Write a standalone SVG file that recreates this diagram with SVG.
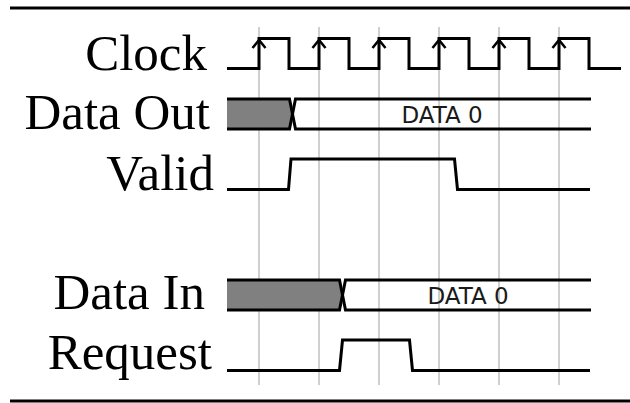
<svg xmlns="http://www.w3.org/2000/svg" width="630" height="403" viewBox="0 0 630 403">
  <style>
    .rule { stroke: #000; stroke-width: 3; }
    .grid { stroke: #a0a0a0; stroke-width: 1; }
    .sig { fill: none; stroke: #000; stroke-width: 3; stroke-linejoin: miter; }
    .clk { fill: none; stroke: #000; stroke-width: 3; }
    .edge { fill: none; stroke: #000; stroke-width: 2.5; }
    .label { font-family: "Liberation Serif", "Times New Roman", serif; font-size: 51px; fill: #000; text-anchor: end; }
    .bus { font-family: "DejaVu Sans", sans-serif; font-size: 23px; fill: #1a1a1a; text-anchor: middle; }
    .undef { fill: #808080; stroke: none; }
  </style>
  <defs>
    <path id="clk-arrow" class="edge" d="M-6.5,48 L0,40 L6.5,48"/>
  </defs>

  <rect width="630" height="403" fill="#fff"/>

  <!-- top and bottom rules -->
  <line class="rule" x1="10" y1="8" x2="630" y2="8"/>
  <line class="rule" x1="10" y1="401" x2="630" y2="401"/>

  <!-- clock grid -->
  <g id="grid">
    <line class="grid" x1="259" y1="27" x2="259" y2="385"/>
    <line class="grid" x1="319" y1="27" x2="319" y2="385"/>
    <line class="grid" x1="379" y1="27" x2="379" y2="385"/>
    <line class="grid" x1="439" y1="27" x2="439" y2="385"/>
    <line class="grid" x1="499" y1="27" x2="499" y2="385"/>
    <line class="grid" x1="559" y1="27" x2="559" y2="385"/>
  </g>

  <g id="clock">
    <text class="label" x="207" y="70">Clock</text>
    <path class="clk" d="M227,68.5 H259 V38.5 H289 V68.5 H319 V38.5 H349 V68.5 H379 V38.5 H409 V68.5 H439 V38.5 H469 V68.5 H499 V38.5 H529 V68.5 H559 V38.5 H589 V68.5 H621"/>
    <use href="#clk-arrow" x="259"/>
    <use href="#clk-arrow" x="319"/>
    <use href="#clk-arrow" x="379"/>
    <use href="#clk-arrow" x="439"/>
    <use href="#clk-arrow" x="499"/>
    <use href="#clk-arrow" x="559"/>
  </g>

  <g id="data-out">
    <text class="label" x="210" y="129">Data Out</text>
    <polygon class="undef" points="227,99 289.5,99 292.5,114 289.5,129 227,129"/>
    <path class="sig" d="M227,99 H289.5 L295.5,129 H591"/>
    <path class="sig" d="M227,129 H289.5 L295.5,99 H591"/>
    <text class="bus" x="442" y="123">DATA 0</text>
  </g>

  <g id="valid">
    <text class="label" x="214" y="190">Valid</text>
    <path class="sig" d="M227,189.5 H288.5 L291,159 H454.5 L457.5,189.5 H590"/>
  </g>

  <g id="data-in">
    <text class="label" x="205" y="309">Data In</text>
    <polygon class="undef" points="227,280 339.5,280 342.5,295 339.5,310 227,310"/>
    <path class="sig" d="M227,280 H339.5 L345.5,310 H591"/>
    <path class="sig" d="M227,310 H339.5 L345.5,280 H591"/>
    <text class="bus" x="468" y="304">DATA 0</text>
  </g>

  <g id="request">
    <text class="label" x="212" y="369">Request</text>
    <path class="sig" d="M227,370.5 H339.5 L342.5,340 H409.5 L412.5,370.5 H590"/>
  </g>
</svg>
